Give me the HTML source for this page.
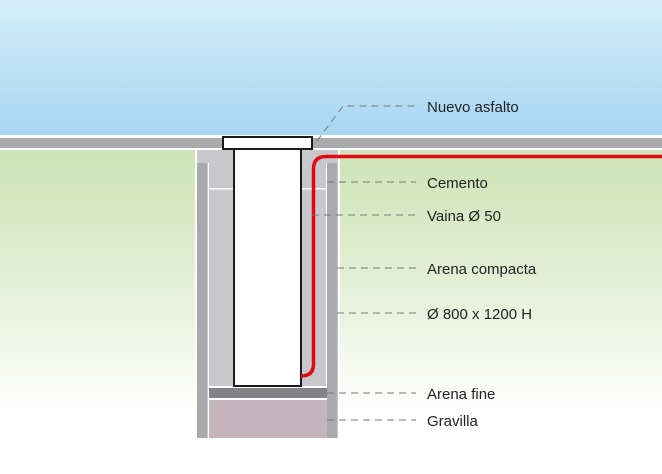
<!DOCTYPE html>
<html><head><meta charset="utf-8"><style>
html,body{margin:0;padding:0;width:662px;height:474px;overflow:hidden;background:#fff}
text{font-family:"Liberation Sans",sans-serif;font-size:15px;fill:#222}
</style></head><body>
<svg width="662" height="474" viewBox="0 0 662 474" xmlns="http://www.w3.org/2000/svg">
<defs>
<linearGradient id="sky" x1="0" y1="0" x2="0" y2="1"><stop offset="0" stop-color="#d6eefa"/><stop offset="1" stop-color="#a6d6f2"/></linearGradient>
<linearGradient id="gr" x1="0" y1="0" x2="0" y2="1"><stop offset="0" stop-color="#cde3b6"/><stop offset="0.55" stop-color="#e6f0d8"/><stop offset="1" stop-color="#ffffff"/></linearGradient>
</defs>
<rect x="0" y="0" width="662" height="136" fill="url(#sky)"/>
<rect x="0" y="135" width="662" height="3" fill="#fff"/>
<rect x="0" y="138" width="662" height="10" fill="#a9aaac"/>
<rect x="0" y="148" width="662" height="2" fill="#fff"/>
<rect x="0" y="150" width="662" height="260" fill="url(#gr)"/>
<!-- chamber -->
<rect x="195" y="149" width="145" height="290" fill="#fff"/>
<rect x="197" y="150" width="141" height="288" fill="#c8c8cc"/>
<rect x="197" y="163" width="10" height="275" fill="#a9aaad"/>
<rect x="327" y="163" width="10" height="275" fill="#a9aaad"/>
<rect x="208" y="163" width="1" height="275" fill="#fff"/>
<rect x="326" y="163" width="1" height="275" fill="#fff"/>
<rect x="208" y="188" width="25" height="1.5" fill="#fff"/>
<rect x="301" y="188" width="26" height="1.5" fill="#fff"/>
<rect x="209" y="386" width="118" height="2" fill="#fff"/>
<rect x="209" y="388" width="118" height="10" fill="#828386"/>
<rect x="209" y="398" width="118" height="2" fill="#fff"/>
<rect x="209" y="400" width="118" height="38" fill="#c4b4bc"/>
<!-- pipe -->
<rect x="234" y="148" width="67" height="238" fill="#fff" stroke="#1a1a1a" stroke-width="2"/>
<rect x="223" y="137" width="89" height="12" fill="#fff" stroke="#1a1a1a" stroke-width="2"/>
<!-- red cable -->
<path d="M662 156.5 H326 Q313.5 156.5 313.5 169 V364 Q313.5 376 301 376" fill="none" stroke="#e30613" stroke-width="3.5"/>
<!-- leaders -->
<g stroke="#777" stroke-width="1" stroke-dasharray="7,5" fill="none">
<path d="M317 141 L343 106 H416"/>
<path d="M327 182 H416"/>
<path d="M312 215 H416"/>
<path d="M337 268 H416"/>
<path d="M337 313 H416"/>
<path d="M327 393 H416"/>
<path d="M327 420 H416"/>
</g>
<text x="427" y="112">Nuevo asfalto</text>
<text x="427" y="188">Cemento</text>
<text x="427" y="221">Vaina Ø 50</text>
<text x="427" y="274">Arena compacta</text>
<text x="427" y="319">Ø 800 x 1200 H</text>
<text x="427" y="399">Arena fine</text>
<text x="427" y="426">Gravilla</text>
</svg>
</body></html>
